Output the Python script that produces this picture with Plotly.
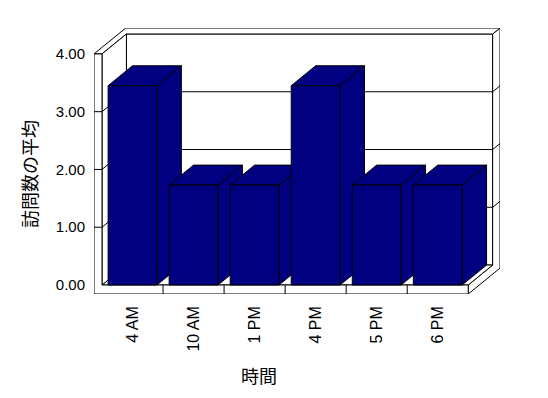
import plotly.graph_objects as go

# ---- data ----
categories = ["4 AM", "10 AM", "1 PM", "4 PM", "5 PM", "6 PM"]
avg_visits = [3.45, 1.73, 1.73, 3.45, 1.73, 1.73]
y_ticks = [0, 1, 2, 3, 4]
y_title = "訪問数の平均"
x_title = "時間"

# ---- 3D-look geometry (data units) ----
BAR_W = 0.8
DX, DY = 0.40, 0.345       # depth offset of the plot box
T = 0.3                    # back wall thickness (fraction of depth)
X0, X1 = -0.5, len(categories) - 0.5
W = 0.131                  # left wall thickness
XL = X0 - W
Y0, YTOP = 0, max(y_ticks)
YB = -0.156                # floor thickness
NAVY = "#000080"

def path(pts, close=True):
    s = "M " + " L ".join(f"{x},{y}" for x, y in pts)
    return s + (" Z" if close else "")

shapes = []
def poly(pts, fill="white", close=True):
    shapes.append(dict(type="path", path=path(pts, close), xref="x", yref="y",
                       fillcolor=fill if close else None, layer="below",
                       line=dict(color="black", width=1)))
def line(p, q):
    shapes.append(dict(type="line", x0=p[0], y0=p[1], x1=q[0], y1=q[1], xref="x", yref="y",
                       layer="below", line=dict(color="black", width=1)))

DXT, DYT = DX * (1 + T), DY * (1 + T)
# back wall inner face
poly([(X0 + DX, Y0 + DY), (X1 + DX, Y0 + DY), (X1 + DX, YTOP + DY), (X0 + DX, YTOP + DY)])
# right side faces (floor + back wall)
poly([(X1, Y0), (X1 + DX, Y0 + DY), (X1 + DX, YTOP + DY), (X1 + DXT, YTOP + DYT),
      (X1 + DXT, YB + DYT), (X1, YB)])
# top face of walls
poly([(XL, YTOP), (X0, YTOP), (X0 + DX, YTOP + DY), (X1 + DX, YTOP + DY),
      (X1 + DXT, YTOP + DYT), (XL + DXT, YTOP + DYT)])
# back gridlines (wrapping the side)
for v in y_ticks[1:-1]:
    poly([(X0 + DX, v + DY), (X1 + DX, v + DY), (X1 + DXT, v + DYT)], close=False)
# floor top
poly([(X0, Y0), (X1, Y0), (X1 + DX, Y0 + DY), (X0 + DX, Y0 + DY)])
# left wall inner face
poly([(X0, Y0), (X0 + DX, Y0 + DY), (X0 + DX, YTOP + DY), (X0, YTOP)])
for v in y_ticks[1:-1]:
    line((X0, v), (X0 + DX, v + DY))
# front L-shaped face (left wall + floor)
poly([(XL, YTOP), (XL, YB), (X1, YB), (X1, Y0), (X0, Y0), (X0, YTOP)])
for v in y_ticks[1:-1]:
    line((XL, v), (X0, v))
for i in range(len(categories) - 1):
    line((i + 0.5, YB), (i + 0.5, Y0))
# bar side and top faces
for i, v in enumerate(avg_visits):
    l, r = i - BAR_W / 2, i + BAR_W / 2
    poly([(r, 0), (r + DX, DY), (r + DX, v + DY), (r, v)], fill=NAVY)
    poly([(l, v), (r, v), (r + DX, v + DY), (l + DX, v + DY)], fill=NAVY)

fig = go.Figure(go.Bar(
    x=list(range(len(categories))), y=avg_visits, width=BAR_W,
    marker=dict(color=NAVY, line=dict(color="black", width=1)), hoverinfo="skip"))

tick_font = dict(family="Liberation Sans, Arial, sans-serif", size=15, color="black")
fig.update_layout(
    width=548, height=398,
    margin=dict(l=94, r=48, t=28, b=104),
    paper_bgcolor="white", plot_bgcolor="white",
    showlegend=False, shapes=shapes,
    xaxis=dict(range=[XL, X1 + DXT], tickvals=list(range(len(categories))),
               ticktext=categories, tickangle=-90, showgrid=False, zeroline=False,
               showline=False, ticks="", ticklabelstandoff=8,
               tickfont=dict(tick_font, size=16)),
    yaxis=dict(range=[YB, YTOP + DYT], tickvals=y_ticks,
               ticktext=[f"{v:.2f}" for v in y_ticks], showgrid=False, zeroline=False,
               showline=False, ticks="", ticklabelstandoff=8, tickfont=tick_font),
    annotations=[
        dict(text=y_title, x=-0.160, y=0.451, xref="paper", yref="paper",
             textangle=-90, showarrow=False, xanchor="center", yanchor="middle",
             font=dict(family="Noto Sans CJK JP", size=18, color="black")),
        dict(text=x_title, x=0.406, y=-0.306, xref="paper", yref="paper",
             showarrow=False, xanchor="center", yanchor="middle",
             font=dict(family="Noto Sans CJK JP", size=18, color="black")),
    ],
)
fig.write_html("out.html")
